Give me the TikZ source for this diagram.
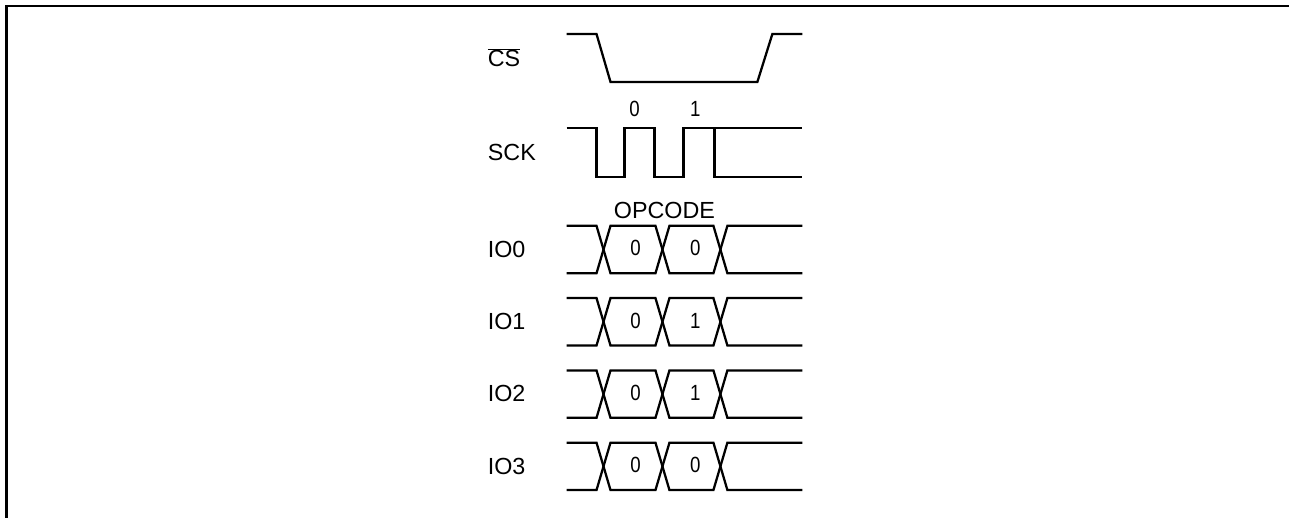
\documentclass[tikz,border=0pt]{standalone}
\usepackage{fontspec}
\setmainfont{Liberation Sans}
\tikzset{
  wave/.style={line width=1.7pt},
  sig label/.style={anchor=base west,inner sep=0pt,font=\fontsize{17.5}{20}\selectfont},
  bit label/.style={anchor=base,inner sep=0pt,font=\fontsize{16.5}{19}\selectfont}
}
\newcommand{\narrowdigit}[1]{\scalebox{0.85}[1]{#1}}
\begin{document}
\begin{tikzpicture}[x=0.75pt,y=0.75pt,yscale=-1,xscale=1]
\path (0,0) rectangle (1290,518); %set diagram size

%Frame [top and left]
\draw [line width=1.6pt] (6.5,518) -- (6.5,6) -- (1290,6) ;

%CS waveform
\draw [wave] (567,34) -- (597,34) -- (611,82) -- (758,82) -- (773,34) -- (803,34) ;
%SCK waveform
\draw [wave] (567,128) -- (597,128) -- (597,177) -- (625,177) -- (625,128) -- (655,128) -- (655,177) -- (684,177) -- (684,128) -- (803,128) ;
\draw [wave] (715,128) -- (715,177) -- (803,177) ;

% Text Node
\node [sig label] (cs) at (488,67) {$\overline{\mbox{CS}}$};
% Text Node
\node [sig label] (sck) at (488,160.5) {SCK};
% Text Node
\node [bit label] (clk0) at (635,116.5) {\narrowdigit{0}};
% Text Node
\node [bit label] (clk1) at (696,116.5) {\narrowdigit{1}};
% Text Node
\node [sig label,anchor=base] (opcode) at (665,218.5) {OPCODE};

%IO waveforms
\foreach \t/\a/\b/\n in {226/0/0/0, 298.3/0/1/1, 370.7/0/1/2, 443/0/0/3} {
  \draw [wave] (567,\t) -- (597,\t) -- (611,\t+47.5) -- (656,\t+47.5) -- (670,\t) -- (714,\t) -- (728,\t+47.5) -- (803,\t+47.5) ;
  \draw [wave] (567,\t+47.5) -- (597,\t+47.5) -- (611,\t) -- (656,\t) -- (670,\t+47.5) -- (714,\t+47.5) -- (728,\t) -- (803,\t) ;
  \node [sig label] (io\n) at (488,\t+31.5) {IO\n};
  \node [bit label] (io\n a) at (636,\t+30) {\narrowdigit{\a}};
  \node [bit label] (io\n b) at (696,\t+30) {\narrowdigit{\b}};
}

\end{tikzpicture}
\end{document}
